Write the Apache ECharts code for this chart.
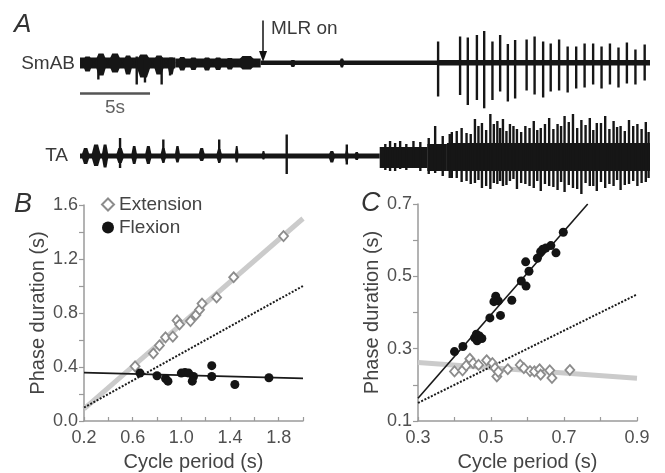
<!DOCTYPE html>
<html><head><meta charset="utf-8">
<script src="https://cdn.jsdelivr.net/npm/echarts/dist/echarts.min.js"></script>
<style>html,body{margin:0;padding:0;background:#fff}#c{width:665px;height:473px}</style>
</head><body><div id="c"></div>
<script>
// ---------- Panel A : EMG traces (time in s, amplitude in arbitrary units) ----------
var traceDuration = 40.7;
var mlrOnTime = 13.07;
var scaleBarSeconds = 5;
// band segments: [tStart, tEnd, up, down]
var smabBand = [[0,6.8,5,6],[6.8,12.9,4,5],[12.9,25.6,2,2.5],[25.6,40.7,2.5,3]];
// bursts: [tCenter, width, up, down]
var smabBursts = [[0.54,0.8,6,9],[1.5,0.9,9,13],[2.5,1.0,9,10],[3.43,0.75,7,12],[4.54,1.2,8,15],[5.64,0.9,7,12],[6.5,0.6,5,12],[7.3,0.75,5.5,8],[8.1,0.75,5,7.5],[9.07,0.75,5,8],[9.86,0.75,5,7.5],[10.7,0.75,4.5,7],[11.9,1.5,6.5,7],[15.2,0.5,2.5,4.5],[18.7,0.4,4,5]];
// spikes: [t, up, down]
var smabSpikes = [[1.31,5,17],[4.05,6,22],[4.64,6,20],[5.83,5,22],[6.43,4,13],
  [25.57,21,34],[27.14,26,32.5],[27.69,25,42.5],[28.34,27.5,37.5],[28.86,31.5,45.8],[29.45,21,37.5],[30.0,27.5,29],[30.55,18.5,39],[31.07,22.5,36],
  [31.89,23,28],[32.46,26,32],[33.07,21,35],[33.61,19,29],[34.21,23,28],[34.82,16,30],[35.43,16,26],[36.03,19,25],[36.64,19,22],[37.24,16,26],[37.84,19,22],[38.45,15,25],[39.05,20,21],[39.66,13,22],[40.32,18,18]];
var taBand = [[0,21.4,2.5,2.5],[21.4,24.8,9,12],[24.8,26.2,12,15],[26.2,40.7,13,15]];
var taBursts = [[0.4,0.6,8,8],[1.15,0.7,11.5,10],[1.79,0.5,11.5,11.5],[2.86,0.6,8,7],[3.87,0.45,10,8],[4.88,0.5,10,8],[5.95,0.45,8,6],[6.96,0.4,10,6.5],[8.69,0.5,8,5],[9.94,0.45,7,6],[11.19,0.3,10,6.5],[13.1,0.3,5,3.5],[17.98,0.5,5,6.5],[19.05,0.3,6,6],[19.76,0.4,4,4]];
var taSpikes = [[2.86,18,12],[5.95,16.5,7],[9.94,16.5,7],[14.76,21.5,18],[19.05,11.5,8.5],
  [21.8,12,14],[22.14,15,15],[22.5,13,15],[22.86,15,13],[23.3,12,14],[23.81,15,12],[24.3,14,15],[24.9,18,18],[25.36,30,17],[25.9,20,20],[26.4,22,22],
  [26.9,25,22],[27.6,23,25],[28.2,37,27],[28.7,33,32],[29.3,42,33],[29.8,35,28],[30.2,37,30],[30.7,32,25],[31.2,27,33],
  [31.8,30,28],[32.4,35,32],[32.9,28,35],[33.5,38,30],[34.1,32,34],[34.6,40,36],[35.2,42,32],[35.8,36,38],[36.4,38,30],[36.9,33,35],[37.5,40,32],[38.1,35,30],[38.6,30,34],[39.2,36,28],[39.8,32,30],[40.4,34,26],
  [26.55,24,22],[27.25,28,26],[27.9,22,28],[28.45,30,24],[29.0,26,30],[29.55,32,27],[30.0,28,25],[30.45,25,29],[30.95,30,23],[31.5,24,27],[32.1,28,30],[32.65,26,25],[33.2,32,28],[33.8,27,31],[34.35,30,26],[34.9,34,29],[35.5,28,33],[36.1,31,27],[36.65,26,30],[37.2,33,26],[37.8,27,28],[38.35,29,24],[38.9,25,29],[39.5,30,25],[40.1,27,27],[40.6,24,22]];

// ---------- Panel B ----------
var extB = [[0.62,0.405],[0.77,0.50],[0.82,0.56],[0.87,0.62],[0.93,0.625],[0.965,0.745],[0.985,0.715],[1.075,0.74],[1.12,0.785],[1.15,0.825],[1.17,0.87],[1.29,0.915],[1.43,1.065],[1.84,1.37]];
var flexB = [[0.66,0.355],[0.80,0.335],[0.87,0.315],[0.89,0.295],[1.00,0.355],[1.03,0.36],[1.06,0.355],[1.10,0.33],[1.09,0.295],[1.25,0.41],[1.25,0.33],[1.44,0.27],[1.72,0.32]];
var extFitB = [[0.2,0.09],[2.0,1.50]];
var flexFitB = [[0.2,0.358],[2.0,0.316]];
var halfB = [[0.2,0.1],[2.0,1.0]];

// ---------- Panel C ----------
var extC = [[0.40,0.237],[0.422,0.240],[0.432,0.253],[0.442,0.272],[0.451,0.260],[0.466,0.255],[0.488,0.268],[0.504,0.26],[0.511,0.246],[0.516,0.223],[0.52,0.236],[0.546,0.243],[0.58,0.255],[0.59,0.246],[0.607,0.238],[0.619,0.237],[0.633,0.243],[0.636,0.228],[0.661,0.24],[0.667,0.219],[0.716,0.241]];
var flexC = [[0.40,0.292],[0.423,0.306],[0.455,0.33],[0.46,0.34],[0.462,0.322],[0.468,0.335],[0.475,0.328],[0.497,0.385],[0.508,0.43],[0.513,0.445],[0.52,0.432],[0.526,0.392],[0.557,0.434],[0.583,0.487],[0.595,0.54],[0.596,0.473],[0.604,0.514],[0.627,0.55],[0.636,0.568],[0.642,0.575],[0.65,0.578],[0.664,0.585],[0.678,0.565],[0.698,0.622]];
var extFitC = [[0.3,0.262],[0.9,0.218]];
var flexFitC = [[0.3,0.163],[0.765,0.70]];
var halfC = [[0.3,0.15],[0.9,0.45]];

var FONT = 'Liberation Sans, Arial, Helvetica, sans-serif';
var TRACE = '#161616';
var TXT = '#444';
var AX = '#9a9a9a';

function bandSeries(idx, data){
  return {type:'custom', xAxisIndex:idx, yAxisIndex:idx, silent:true, clip:false, data:data,
    renderItem:function(p, api){
      var a = api.coord([api.value(0), api.value(2)]);
      var b = api.coord([api.value(1), -api.value(3)]);
      return {type:'rect', shape:{x:a[0], y:a[1], width:b[0]-a[0], height:b[1]-a[1]}, style:{fill:TRACE}};
    }};
}
function burstSeries(idx, data){
  return {type:'custom', xAxisIndex:idx, yAxisIndex:idx, silent:true, clip:false, data:data,
    renderItem:function(p, api){
      var t=api.value(0), w=api.value(1), u=api.value(2), d=api.value(3);
      var pts=[[t-w/2,0],[t-w/5,u],[t+w/5,u],[t+w/2,0],[t+w/5,-d],[t-w/5,-d]].map(function(q){return api.coord(q);});
      return {type:'polygon', shape:{points:pts}, style:{fill:TRACE}};
    }};
}
function spikeSeries(idx, data){
  return {type:'custom', xAxisIndex:idx, yAxisIndex:idx, silent:true, clip:false, data:data,
    renderItem:function(p, api){
      var a = api.coord([api.value(0), api.value(1)]);
      var b = api.coord([api.value(0), -api.value(2)]);
      return {type:'rect', shape:{x:a[0]-1.2, y:a[1], width:2.4, height:b[1]-a[1]}, style:{fill:TRACE}};
    }};
}
function labelEvery(min, step){
  return function(v){ var k = Math.round((v-min)/step*1e6)/1e6; return (Math.abs(k-Math.round(k))<1e-6) ? v.toFixed(1) : ''; };
}
function sciX(grid, min, max, step, lstep, name){
  return {gridIndex:grid, type:'value', min:min, max:max, interval:step,
    axisLine:{lineStyle:{color:AX, width:1.5}},
    axisTick:{inside:true, length:4, lineStyle:{color:AX, width:1.2}},
    axisLabel:{fontSize:18, color:'#505050', fontFamily:FONT, margin:8, formatter:labelEvery(min, lstep)},
    splitLine:{show:false},
    name:name, nameLocation:'middle', nameGap:31, nameTextStyle:{fontSize:20, color:TXT, fontFamily:FONT}};
}
function sciY(grid, min, max, step, lstep, name){
  return {gridIndex:grid, type:'value', min:min, max:max, interval:step,
    axisLine:{show:true, lineStyle:{color:AX, width:1.5}},
    axisTick:{show:true, inside:false, length:5, lineStyle:{color:AX, width:1.2}},
    axisLabel:{fontSize:18, color:'#505050', fontFamily:FONT, margin:6, formatter:labelEvery(min, lstep)},
    splitLine:{show:false},
    name:name, nameLocation:'middle', nameRotate:90, nameGap:36, nameTextStyle:{fontSize:20, color:TXT, fontFamily:FONT}};
}
function line(grid, data, color, width, type, z){
  return {type:'line', xAxisIndex:grid, yAxisIndex:grid, data:data, symbol:'none', silent:true, z:z,
    lineStyle:{color:color, width:width, type:type}};
}
function extScatter(grid, data){
  return {name:'Extension', type:'scatter', xAxisIndex:grid, yAxisIndex:grid, data:data, symbol:'diamond', symbolSize:[9,10], z:5,
    itemStyle:{color:'#fff', borderColor:'#8c8c8c', borderWidth:1.8, opacity:1}};
}
function flexScatter(grid, data){
  return {name:'Flexion', type:'scatter', xAxisIndex:grid, yAxisIndex:grid, data:data, symbol:'circle', symbolSize:9, z:6,
    itemStyle:{color:'#141414', opacity:1}};
}

var chart = echarts.init(document.getElementById('c'), null, {renderer:'canvas'});
chart.setOption({
  animation:false,
  backgroundColor:'#fff',
  textStyle:{fontFamily:FONT},
  grid:[
    {left:80, top:17.5, width:570, height:90},
    {left:80, top:111, width:570, height:90},
    {left:84, top:205, width:219, height:216},
    {left:418, top:204, width:219, height:217}
  ],
  xAxis:[
    {gridIndex:0, type:'value', min:0, max:traceDuration, show:false},
    {gridIndex:1, type:'value', min:0, max:traceDuration, show:false},
    sciX(2, 0.2, 2.0, 0.2, 0.4, 'Cycle period (s)'),
    sciX(3, 0.3, 0.9, 0.1, 0.2, 'Cycle period (s)')
  ],
  yAxis:[
    {gridIndex:0, type:'value', min:-45, max:45, show:false},
    {gridIndex:1, type:'value', min:-45, max:45, show:false},
    sciY(2, 0, 1.6, 0.2, 0.4, 'Phase duration (s)'),
    sciY(3, 0.1, 0.7, 0.1, 0.2, 'Phase duration (s)')
  ],
  legend:{data:[{name:'Extension', icon:'diamond'},{name:'Flexion', icon:'circle'}], orient:'vertical', left:101, top:195,
    padding:0, itemWidth:12, itemHeight:12, itemGap:4, selectedMode:false,
    textStyle:{fontSize:19, color:TXT, fontFamily:FONT}},
  graphic:[
    {type:'text', x:14, y:12, style:{text:'A', font:'italic 26px '+FONT, fill:'#333'}},
    {type:'text', x:14, y:191, style:{text:'B', font:'italic 27px '+FONT, fill:'#333'}},
    {type:'text', x:361, y:190, style:{text:'C', font:'italic 27px '+FONT, fill:'#333'}},
    {type:'text', x:75, y:64, style:{text:'SmAB', font:'19px '+FONT, fill:'#3a3a3a', align:'right', verticalAlign:'middle'}},
    {type:'text', x:68, y:156, style:{text:'TA', font:'19px '+FONT, fill:'#3a3a3a', align:'right', verticalAlign:'middle'}},
    {type:'text', x:271, y:29, style:{text:'MLR on', font:'19px '+FONT, fill:'#3a3a3a', align:'left', verticalAlign:'middle'}}
  ],
  series:[
    bandSeries(0, smabBand), burstSeries(0, smabBursts), spikeSeries(0, smabSpikes),
    bandSeries(1, taBand), burstSeries(1, taBursts), spikeSeries(1, taSpikes),
    {type:'line', xAxisIndex:0, yAxisIndex:0, data:[[0,-31],[scaleBarSeconds,-31]], symbol:'none', silent:true,
      lineStyle:{color:'#555', width:2.5},
      markLine:{silent:true, symbol:['none','triangle'], symbolSize:[8,11], animation:false,
        lineStyle:{color:'#111', width:1.5, type:'solid'}, label:{show:false},
        data:[[{coord:[mlrOnTime,42]},{coord:[mlrOnTime,6]}]]}},
    {type:'scatter', xAxisIndex:0, yAxisIndex:0, data:[[scaleBarSeconds/2,-45]], symbolSize:1, silent:true,
      itemStyle:{color:'rgba(0,0,0,0)'},
      label:{show:true, position:'inside', formatter:scaleBarSeconds+'s', fontSize:19, color:'#3a3a3a', fontFamily:FONT}},
    line(2, extFitB, '#cbcbcb', 5, 'solid', 1),
    line(2, halfB, '#1a1a1a', 2, [2,1.6], 2),
    line(2, flexFitB, '#1a1a1a', 1.6, 'solid', 3),
    extScatter(2, extB), flexScatter(2, flexB),
    line(3, extFitC, '#cbcbcb', 5, 'solid', 1),
    line(3, halfC, '#1a1a1a', 2, [2,1.6], 2),
    line(3, flexFitC, '#1a1a1a', 1.6, 'solid', 3),
    extScatter(3, extC), flexScatter(3, flexC)
  ]
});
</script></body></html>
